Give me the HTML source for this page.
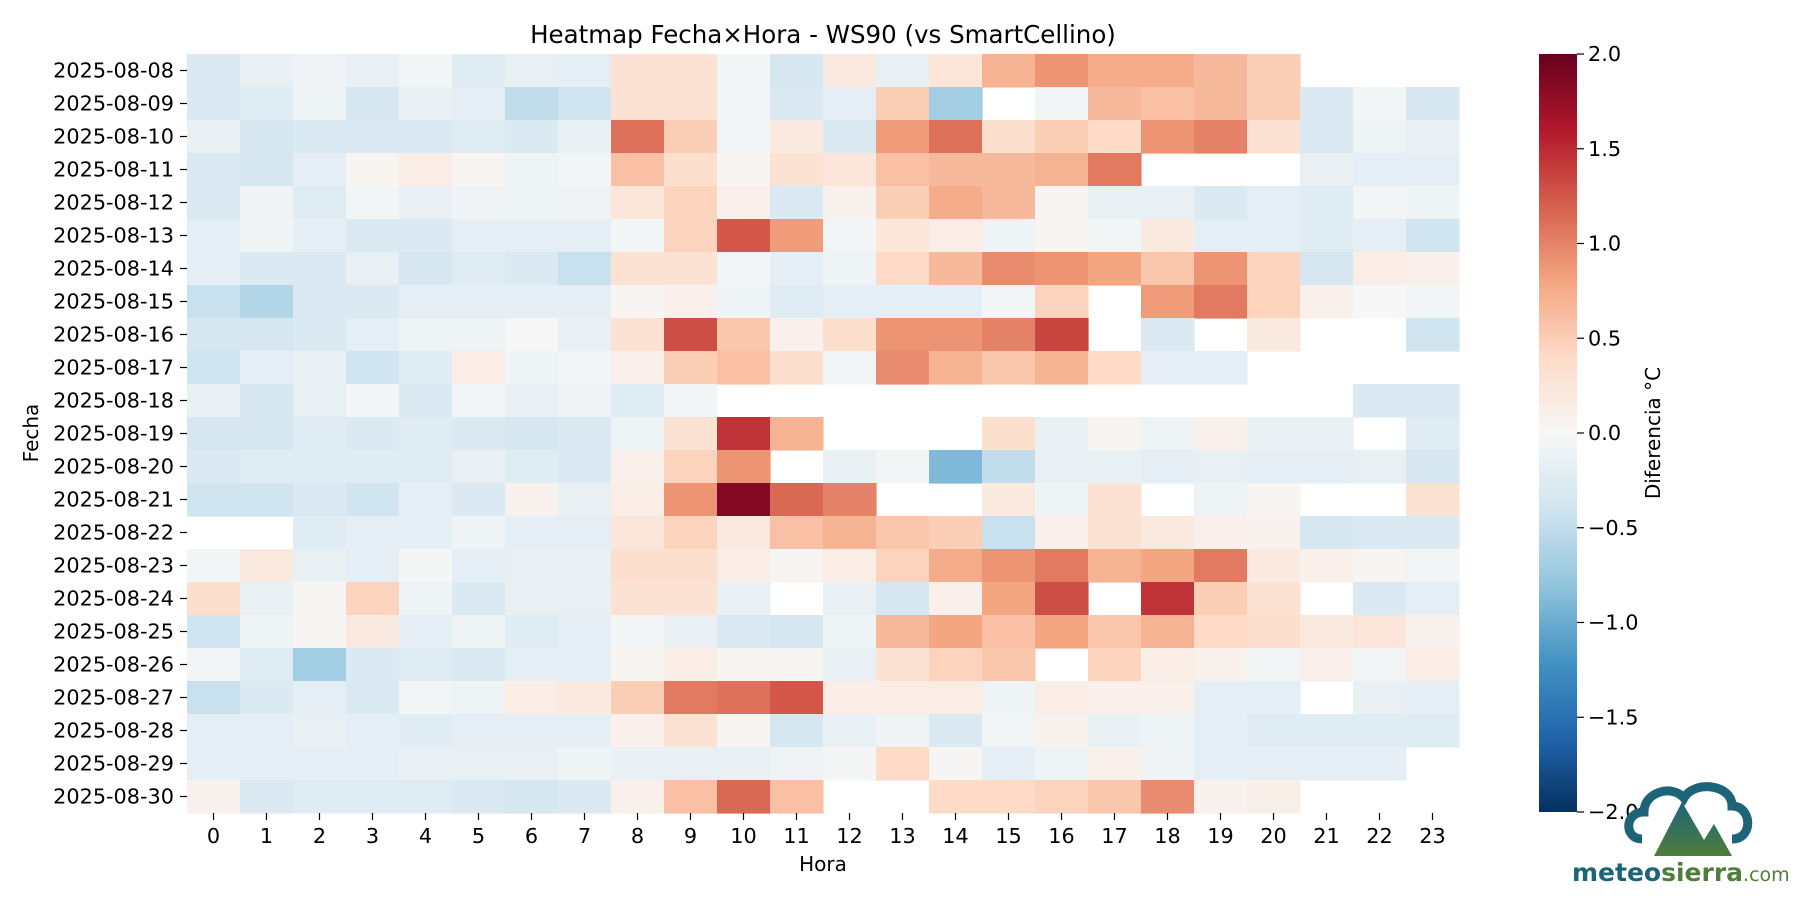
<!DOCTYPE html>
<html><head><meta charset="utf-8"><style>
body{margin:0;background:#fff;}
svg text{font-family:"DejaVu Sans","Liberation Sans",sans-serif;fill:#000;}
</style></head><body>
<svg id="s" width="1800" height="900" xmlns="http://www.w3.org/2000/svg">
<defs><linearGradient id="cb" x1="0" y1="1" x2="0" y2="0">
<stop offset="0" stop-color="#053061"/><stop offset="0.1" stop-color="#2166ac"/><stop offset="0.2" stop-color="#4393c3"/><stop offset="0.3" stop-color="#92c5de"/><stop offset="0.4" stop-color="#d1e5f0"/><stop offset="0.5" stop-color="#f7f7f7"/><stop offset="0.6" stop-color="#fddbc7"/><stop offset="0.7" stop-color="#f4a582"/><stop offset="0.8" stop-color="#d6604d"/><stop offset="0.9" stop-color="#b2182b"/><stop offset="1" stop-color="#67001f"/></linearGradient>
<linearGradient id="lg" x1="0" y1="0" x2="0" y2="1"><stop offset="0" stop-color="#1d6478"/><stop offset="1" stop-color="#4f7d3a"/></linearGradient></defs>
<g id="cells"></g>
<text x="823" y="43" font-size="24.5" text-anchor="middle">Heatmap Fecha×Hora - WS90 (vs SmartCellino)</text>
<g id="ax"></g>
<text x="823" y="871" font-size="20" text-anchor="middle">Hora</text>
<text transform="translate(38,433) rotate(-90)" font-size="20" text-anchor="middle">Fecha</text>
<rect x="1539" y="54" width="38" height="758" fill="url(#cb)"/>
<text transform="translate(1660,433) rotate(-90)" font-size="20" text-anchor="middle">Diferencia °C</text>
<g transform="translate(1632,784)">
<path d="M10 55 C-8 55 -8 28 12 28 C12 8 40 0 52 14 C62 -4 100 0 100 22 C120 22 122 55 100 55" fill="none" stroke="#1d6478" stroke-width="9"/>
<polygon points="22,72 50,18 72,56 82,40 100,72" fill="url(#lg)"/>
</g>
<text x="1572" y="881" font-size="25" font-weight="bold" style="fill:#1d6478">meteo<tspan style="fill:#4f7d3a">sierra</tspan><tspan font-size="19" font-weight="normal" style="fill:#4f7d3a">.com</tspan></text>
</svg>
<script>
var N=null;
var D=[
[-0.3,-0.15,-0.08,-0.15,-0.05,-0.25,-0.15,-0.2,0.3,0.3,-0.05,-0.35,0.2,-0.15,0.25,0.7,0.9,0.75,0.75,0.65,0.5,N,N,N],
[-0.3,-0.25,-0.1,-0.35,-0.15,-0.2,-0.5,-0.4,0.3,0.3,-0.05,-0.3,-0.2,0.5,-0.7,N,-0.05,0.65,0.6,0.65,0.5,-0.3,-0.05,-0.35],
[-0.15,-0.35,-0.3,-0.3,-0.3,-0.25,-0.3,-0.15,1.1,0.5,-0.05,0.2,-0.3,0.85,1.1,0.35,0.5,0.4,0.9,1.0,0.3,-0.3,-0.1,-0.15],
[-0.3,-0.35,-0.2,0.05,0.15,0.05,-0.1,-0.05,0.6,0.35,0.05,0.3,0.25,0.6,0.65,0.65,0.7,1.05,N,N,N,-0.15,-0.2,-0.2],
[-0.3,-0.08,-0.25,-0.05,-0.15,-0.08,-0.1,-0.08,0.25,0.45,0.1,-0.3,0.08,0.5,0.75,0.65,0.05,-0.15,-0.15,-0.3,-0.2,-0.25,-0.05,-0.1],
[-0.2,-0.08,-0.2,-0.3,-0.3,-0.2,-0.2,-0.2,-0.05,0.45,1.25,0.85,-0.05,0.25,0.15,-0.1,0.05,-0.05,0.2,-0.2,-0.2,-0.25,-0.2,-0.4],
[-0.2,-0.3,-0.3,-0.15,-0.35,-0.25,-0.3,-0.45,0.3,0.3,-0.05,-0.2,-0.1,0.4,0.65,0.95,0.9,0.8,0.55,0.9,0.45,-0.35,0.15,0.1],
[-0.45,-0.6,-0.3,-0.3,-0.2,-0.2,-0.2,-0.2,0.05,0.1,-0.1,-0.25,-0.2,-0.2,-0.2,-0.05,0.45,N,0.85,1.05,0.45,0.1,0.0,-0.05],
[-0.35,-0.35,-0.3,-0.2,-0.1,-0.1,0.0,-0.15,0.3,1.3,0.55,0.1,0.35,0.9,0.9,1.0,1.35,N,-0.3,N,0.2,N,N,-0.4],
[-0.4,-0.2,-0.15,-0.4,-0.25,0.15,-0.1,-0.05,0.1,0.5,0.6,0.35,-0.05,0.95,0.7,0.55,0.7,0.4,-0.2,-0.2,N,N,N,N],
[-0.15,-0.35,-0.15,-0.05,-0.3,-0.05,-0.15,-0.08,-0.25,-0.05,N,N,N,N,N,N,N,N,N,N,N,N,-0.3,-0.3],
[-0.35,-0.35,-0.25,-0.3,-0.25,-0.3,-0.35,-0.3,-0.1,0.3,1.45,0.7,N,N,N,0.35,-0.15,0.05,-0.1,0.1,-0.15,-0.15,N,-0.25],
[-0.3,-0.25,-0.25,-0.25,-0.25,-0.15,-0.25,-0.3,0.1,0.45,0.9,N,-0.15,-0.05,-0.9,-0.5,-0.15,-0.15,-0.2,-0.15,-0.2,-0.2,-0.15,-0.35],
[-0.4,-0.4,-0.3,-0.4,-0.2,-0.3,0.08,-0.15,0.15,0.9,1.85,1.15,1.0,N,N,0.2,-0.1,0.3,N,-0.1,0.05,N,N,0.3],
[N,N,-0.25,-0.2,-0.2,-0.1,-0.2,-0.2,0.25,0.45,0.2,0.6,0.7,0.55,0.5,-0.45,0.1,0.3,0.2,0.1,0.08,-0.35,-0.3,-0.3],
[-0.05,0.2,-0.15,-0.2,-0.03,-0.2,-0.15,-0.15,0.35,0.35,0.15,0.05,0.15,0.45,0.75,0.9,1.05,0.7,0.8,1.05,0.2,0.1,0.05,-0.05],
[0.35,-0.15,0.03,0.45,-0.1,-0.3,-0.15,-0.15,0.3,0.3,-0.15,N,-0.15,-0.35,0.1,0.8,1.3,N,1.45,0.5,0.3,N,-0.3,-0.2],
[-0.4,-0.1,0.03,0.2,-0.2,-0.1,-0.25,-0.2,-0.05,-0.15,-0.3,-0.35,-0.1,0.65,0.8,0.6,0.8,0.55,0.7,0.4,0.35,0.2,0.25,0.08],
[-0.05,-0.25,-0.7,-0.3,-0.25,-0.3,-0.2,-0.2,0.05,0.15,0.05,0.05,-0.15,0.3,0.45,0.55,N,0.45,0.15,0.08,-0.05,0.1,-0.05,0.15],
[-0.45,-0.3,-0.2,-0.3,-0.05,-0.1,0.15,0.2,0.5,1.05,1.1,1.25,0.15,0.15,0.15,-0.1,0.15,0.1,0.1,-0.2,-0.2,N,-0.15,-0.2],
[-0.2,-0.2,-0.15,-0.2,-0.25,-0.2,-0.2,-0.2,0.1,0.3,0.05,-0.35,-0.15,-0.08,-0.3,-0.05,0.08,-0.15,-0.1,-0.2,-0.25,-0.25,-0.25,-0.25],
[-0.2,-0.2,-0.2,-0.2,-0.15,-0.15,-0.15,-0.1,-0.15,-0.15,-0.15,-0.08,-0.03,0.4,0.03,-0.2,-0.1,0.1,-0.08,-0.2,-0.2,-0.2,-0.2,N],
[0.08,-0.3,-0.25,-0.25,-0.25,-0.3,-0.35,-0.3,0.1,0.6,1.15,0.6,N,N,0.4,0.4,0.45,0.55,0.95,0.08,0.12,N,N,N]];
var C=["#053061","#2166ac","#4393c3","#92c5de","#d1e5f0","#f7f7f7","#fddbc7","#f4a582","#d6604d","#b2182b","#67001f"].map(function(h){return [parseInt(h.substr(1,2),16),parseInt(h.substr(3,2),16),parseInt(h.substr(5,2),16)];});
function col(v){var t=(v+2)/4*10;if(t<0)t=0;if(t>10)t=10;var i=Math.min(9,Math.floor(t)),f=t-i,a=C[i],b=C[i+1];return "rgb("+[0,1,2].map(function(k){return Math.round(a[k]+(b[k]-a[k])*f);}).join(",")+")";}
var X0=187,Y0=54,W=53,H=33,h="",a="";
for(var r=0;r<23;r++)for(var c=0;c<24;c++){var v=D[r][c];if(v===null)continue;h+='<rect x="'+(X0+c*W)+'" y="'+(Y0+r*H)+'" width="'+(W+0.6)+'" height="'+(H+0.6)+'" fill="'+col(v)+'"/>';}
for(var r=0;r<23;r++){var y=Y0+r*H+H/2;var d=8+r;a+='<line x1="180" x2="187" y1="'+y+'" y2="'+y+'" stroke="#000" stroke-width="1.2"/><text x="174" y="'+(y+7)+'" font-size="20.8" text-anchor="end">2025-08-'+(d<10?"0"+d:d)+'</text>';}
for(var c=0;c<24;c++){var x=X0+c*W+W/2;a+='<line x1="'+x+'" x2="'+x+'" y1="813" y2="820" stroke="#000" stroke-width="1.2"/><text x="'+x+'" y="843" font-size="20.8" text-anchor="middle">'+c+'</text>';}
var tk=[2,1.5,1,0.5,0,-0.5,-1,-1.5,-2];tk.forEach(function(v){var y=54+(2-v)/4*758;a+='<line x1="1577" x2="1584" y1="'+y+'" y2="'+y+'" stroke="#000" stroke-width="1.2"/><text x="1588" y="'+(y+7)+'" font-size="20.8">'+(v<0?"\u2212":"")+Math.abs(v).toFixed(1)+'</text>';});
document.getElementById("cells").innerHTML=h;document.getElementById("ax").innerHTML=a;
</script>
</body></html>
